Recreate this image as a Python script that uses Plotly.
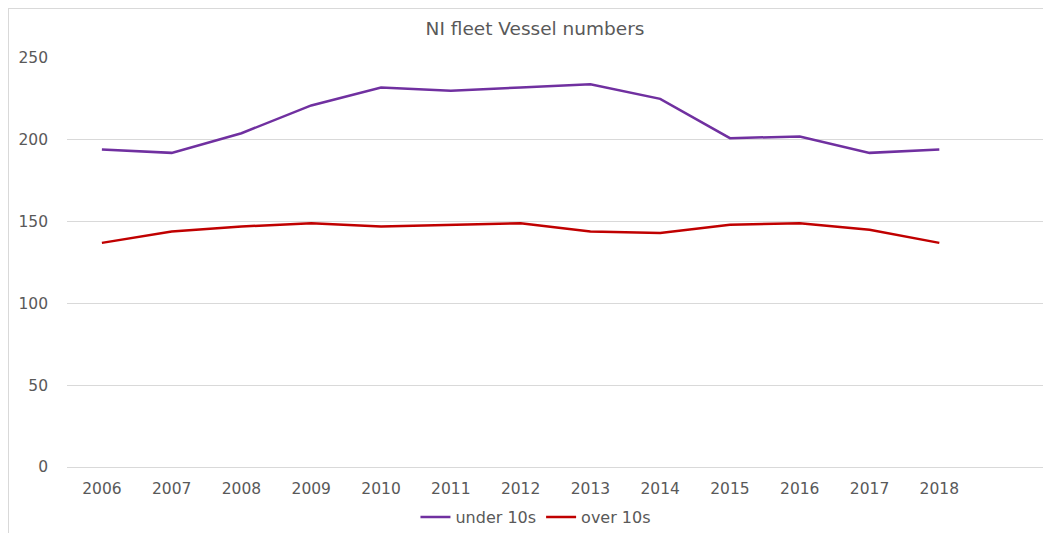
import plotly.graph_objects as go

years = ["2006", "2007", "2008", "2009", "2010", "2011", "2012",
         "2013", "2014", "2015", "2016", "2017", "2018"]
under_10s = [194, 192, 204, 221, 232, 230, 232, 234, 225, 201, 202, 192, 194]
over_10s = [137, 144, 147, 149, 147, 148, 149, 144, 143, 148, 149, 145, 137]

xpos = list(range(len(years)))

FONT = "DejaVu Sans"
GREY = "#595959"
W, H = 1043, 525

fig = go.Figure()
fig.add_trace(go.Scatter(x=xpos, y=under_10s, mode="lines", name="under 10s",
                         line=dict(color="#7030A0", width=2.5)))
fig.add_trace(go.Scatter(x=xpos, y=over_10s, mode="lines", name="over 10s",
                         line=dict(color="#C00000", width=2.5)))

fig.update_layout(
    width=W, height=H,
    margin=dict(l=59, r=7, t=49, b=66, autoexpand=False),
    paper_bgcolor="white", plot_bgcolor="white",
    title=dict(text="NI fleet Vessel numbers", x=527 / W, y=1 - 21 / H,
               xanchor="center", yanchor="middle", xref="container", yref="container",
               font=dict(family=FONT, size=18.5, color=GREY)),
    font=dict(family=FONT, size=15.5, color=GREY),
    showlegend=True,
    legend=dict(orientation="h", x=0.48, y=-0.122, xanchor="center", yanchor="middle",
                font=dict(family=FONT, size=16, color=GREY), itemwidth=30,
                bgcolor="rgba(0,0,0,0)"),
    xaxis=dict(range=[-0.5, 13.5], tickmode="array", tickvals=xpos, ticktext=years,
               showgrid=False, zeroline=False, showline=False, ticks="",
               ticklabelstandoff=10,
               tickfont=dict(family=FONT, size=15.5, color=GREY), fixedrange=True),
    yaxis=dict(range=[0, 250.6], tickmode="array", tickvals=[0, 50, 100, 150, 200, 250],
               showgrid=True, gridcolor="#d9d9d9", gridwidth=1, zeroline=True,
               zerolinecolor="#d9d9d9", zerolinewidth=1, showline=False, ticks="",
               ticklabelstandoff=18,
               tickfont=dict(family=FONT, size=15.5, color=GREY), fixedrange=True),
    shapes=[dict(type="rect", xref="paper", yref="paper",
                 x0=-59 / 977, x1=1.02, y0=-0.2, y1=1 + 49 / 410,
                 line=dict(color="#d9d9d9", width=2), fillcolor="rgba(0,0,0,0)",
                 layer="below")],
)

fig.write_html("out.html")
